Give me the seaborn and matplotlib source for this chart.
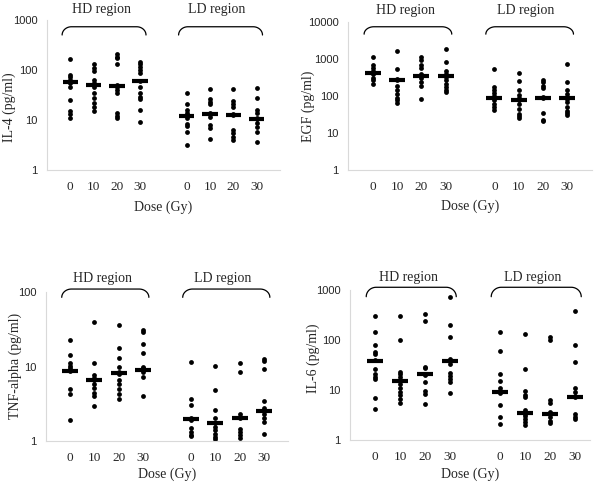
import numpy as np
import pandas as pd
import matplotlib
matplotlib.use("Agg")
import matplotlib.pyplot as plt
import matplotlib.transforms as mtransforms
import seaborn as sns

# dose groups, HD region then LD region
doses = ["0", "10", "20", "30"]
positions = [1, 2, 3, 4, 6, 7, 8, 9]

# IL-4 (pg/ml)
il4_hd = [[164, 80, 72, 62, 55, 46, 25, 15, 13, 11],
          [130, 110, 95, 62, 55, 45, 35, 28, 22, 18, 15],
          [205, 185, 170, 130, 50, 46, 40, 35, 14, 12, 11],
          [145, 130, 115, 100, 88, 60, 45, 35, 29, 26, 16, 9]]
il4_ld = [[34, 21, 16, 14, 12, 11, 8.5, 7.5, 5.7, 3.2],
          [41, 26, 23, 21, 14, 13, 11.5, 8, 7, 4.1],
          [41, 24, 21, 18, 13, 12.5, 6.3, 5.5, 4.6, 4.0],
          [43, 28, 16, 14, 11, 10.5, 8.6, 7.1, 5.8, 3.7]]
il4_med = [58, 50, 48, 60, 12, 13, 12.5, 10.5]

# EGF (pg/ml)
egf_hd = [[1100, 680, 550, 480, 420, 380, 300, 260, 210],
          [1600, 520, 280, 260, 180, 140, 110, 90, 75, 65],
          [1100, 950, 680, 550, 400, 350, 300, 240, 180, 80],
          [1800, 820, 480, 380, 330, 260, 210, 170, 140, 125]]
egf_ld = [[540, 170, 145, 120, 100, 90, 75, 60, 50, 42],
          [410, 250, 140, 105, 85, 75, 60, 45, 33, 28, 26],
          [270, 230, 190, 160, 95, 90, 35, 23, 21],
          [720, 230, 140, 110, 88, 80, 68, 50, 40, 34, 31]]
egf_med = [420, 270, 350, 350, 90, 78, 90, 85]

# TNF-alpha (pg/ml)
tnf_hd = [[23, 14.5, 11, 10.3, 9.5, 8.8, 5.0, 4.3, 1.9],
          [40, 11.3, 7.8, 7.0, 6.5, 5.9, 5.1, 4.4, 4.0, 2.9],
          [36, 18, 13, 10, 8.5, 8.0, 6.6, 5.8, 5.0, 4.2, 3.6],
          [31, 29, 20, 15, 10, 9.5, 9.0, 8.5, 7.2, 4.0]]
tnf_ld = [[11.5, 3.7, 3.0, 2.0, 1.9, 1.5, 1.3, 1.2, 1.15],
          [10.2, 4.8, 2.6, 2.0, 1.75, 1.55, 1.4, 1.25, 1.12, 1.05],
          [11, 8.5, 2.3, 2.1, 2.0, 1.45, 1.3, 1.18, 1.1],
          [12.5, 11.8, 9.2, 3.4, 2.8, 2.6, 2.3, 2.0, 1.8, 1.25]]
tnf_med = [8.8, 6.5, 8.1, 9.0, 1.95, 1.75, 2.0, 2.5]

# IL-6 (pg/ml)
il6_hd = [[300, 140, 80, 57, 52, 39, 26, 21, 18, 16, 6.7, 4.2],
          [300, 100, 23, 20.5, 18, 15.5, 13, 11, 9, 7.8, 6.5, 5.3],
          [320, 240, 29, 27, 21, 20, 14, 9.5, 8.2, 5.1],
          [700, 200, 115, 41, 38, 33, 22, 19, 16, 14, 8.5]]
il6_ld = [[145, 60, 21, 15, 11, 9.5, 8.5, 5.0, 2.8, 2.05],
          [130, 26, 9.5, 8.0, 7.0, 4.0, 3.6, 3.3, 3.0, 2.6, 2.3, 2.0],
          [115, 100, 6.2, 5.5, 3.6, 3.4, 3.2, 2.8, 2.4, 2.2],
          [380, 78, 36, 11, 9.0, 7.5, 7.2, 3.2, 2.8, 2.6]]
il6_med = [38, 15, 20.5, 38, 9, 3.4, 3.3, 7.2]

panels = [
    ("IL-4 (pg/ml)", il4_hd, il4_ld, il4_med, [1, 10, 100, 1000]),
    ("EGF (pg/ml)", egf_hd, egf_ld, egf_med, [1, 10, 100, 1000, 10000]),
    ("TNF-alpha (pg/ml)", tnf_hd, tnf_ld, tnf_med, [1, 10, 100]),
    ("IL-6 (pg/ml)", il6_hd, il6_ld, il6_med, [1, 10, 100, 1000]),
]

# axes boxes [left, bottom, width, height] in figure fraction, plus layout details
boxes = [[0.0783, 0.6516, 0.3883, 0.3074],
         [0.5805, 0.6516, 0.4057, 0.3039],
         [0.0767, 0.0969, 0.4033, 0.3041],
         [0.5833, 0.0990, 0.4000, 0.3074]]
xmax = [10, 10, 10, 9.6]
ylab_xy = [(-0.16, 0.42), (-0.165, 0.43), (-0.128, 0.507), (-0.153, 0.545)]
xlab_y = [-0.245, -0.247, -0.224, -0.229]
brk_top = [0.955, 0.966, 1.022, 1.016]
brk_h = [0.055, 0.05, 0.056, 0.063]
txt_y = [1.067, 1.079, 1.094, 1.083]

sns.set_style("white")
plt.rcParams['font.family'] = ['Liberation Serif', 'DejaVu Serif']

fig = plt.figure(figsize=(6, 4.88), dpi=100)


def bracket(ax, x0, x1, top, h, rx=0.4):
    trans = mtransforms.blended_transform_factory(ax.transData, ax.transAxes)
    t = np.linspace(0, np.pi / 2, 20)
    lx = x0 + rx - rx * np.cos(t)
    ly = top - h + h * np.sin(t)
    rxs = x1 - rx + rx * np.sin(t)
    rys = top - h + h * np.cos(t)
    xs = np.concatenate([lx, rxs])
    ys = np.concatenate([ly, rys])
    ax.plot(xs, ys, color="black", lw=0.9, transform=trans, clip_on=False)


for i, (ylabel, hd, ld, med, yticks) in enumerate(panels):
    ax = fig.add_axes(boxes[i])
    groups = hd + ld
    rows = []
    for p, vals in zip(positions, groups):
        for v in vals:
            rows.append({"pos": p, "value": v})
    df = pd.DataFrame(rows)

    sns.scatterplot(data=df, x="pos", y="value", color="black", s=12,
                    linewidth=0, ax=ax, legend=False, zorder=2)
    pos = np.array(positions, dtype=float)
    ax.hlines(med, pos - 0.33, pos + 0.33, color="black", lw=3, zorder=3)

    ax.set_yscale("log")
    ax.set_ylim(yticks[0], yticks[-1])
    ax.set_xlim(0, xmax[i])
    ax.set_yticks(yticks)
    ax.set_yticklabels([str(t) for t in yticks], family="Liberation Sans", fontsize=8)
    ax.yaxis.set_minor_locator(matplotlib.ticker.NullLocator())
    ax.set_xticks(positions)
    ax.set_xticklabels(doses + doses, fontsize=9.5)
    ax.tick_params(length=0)
    ax.tick_params(axis="y", pad=7)
    ax.tick_params(axis="x", pad=8)

    ax.set_ylabel(ylabel, fontsize=10)
    ax.yaxis.set_label_coords(*ylab_xy[i])
    ax.yaxis.label.set_va("center")
    ax.set_xlabel("Dose (Gy)", fontsize=10)
    ax.xaxis.set_label_coords(0.5, xlab_y[i])
    ax.xaxis.label.set_va("center")

    for s in ["top", "right"]:
        ax.spines[s].set_visible(False)
    for s in ["left", "bottom"]:
        ax.spines[s].set_color("#d9d9d9")
        ax.spines[s].set_linewidth(0.8)

    bracket(ax, 0.65, 4.25, brk_top[i], brk_h[i])
    bracket(ax, 5.65, 9.25, brk_top[i], brk_h[i])
    trans = mtransforms.blended_transform_factory(ax.transData, ax.transAxes)
    ax.text(2.35, txt_y[i], "HD region", transform=trans,
            ha="center", va="center", fontsize=10)
    ax.text(7.3, txt_y[i], "LD region", transform=trans,
            ha="center", va="center", fontsize=10)

fig.savefig("out.png", dpi=100)
